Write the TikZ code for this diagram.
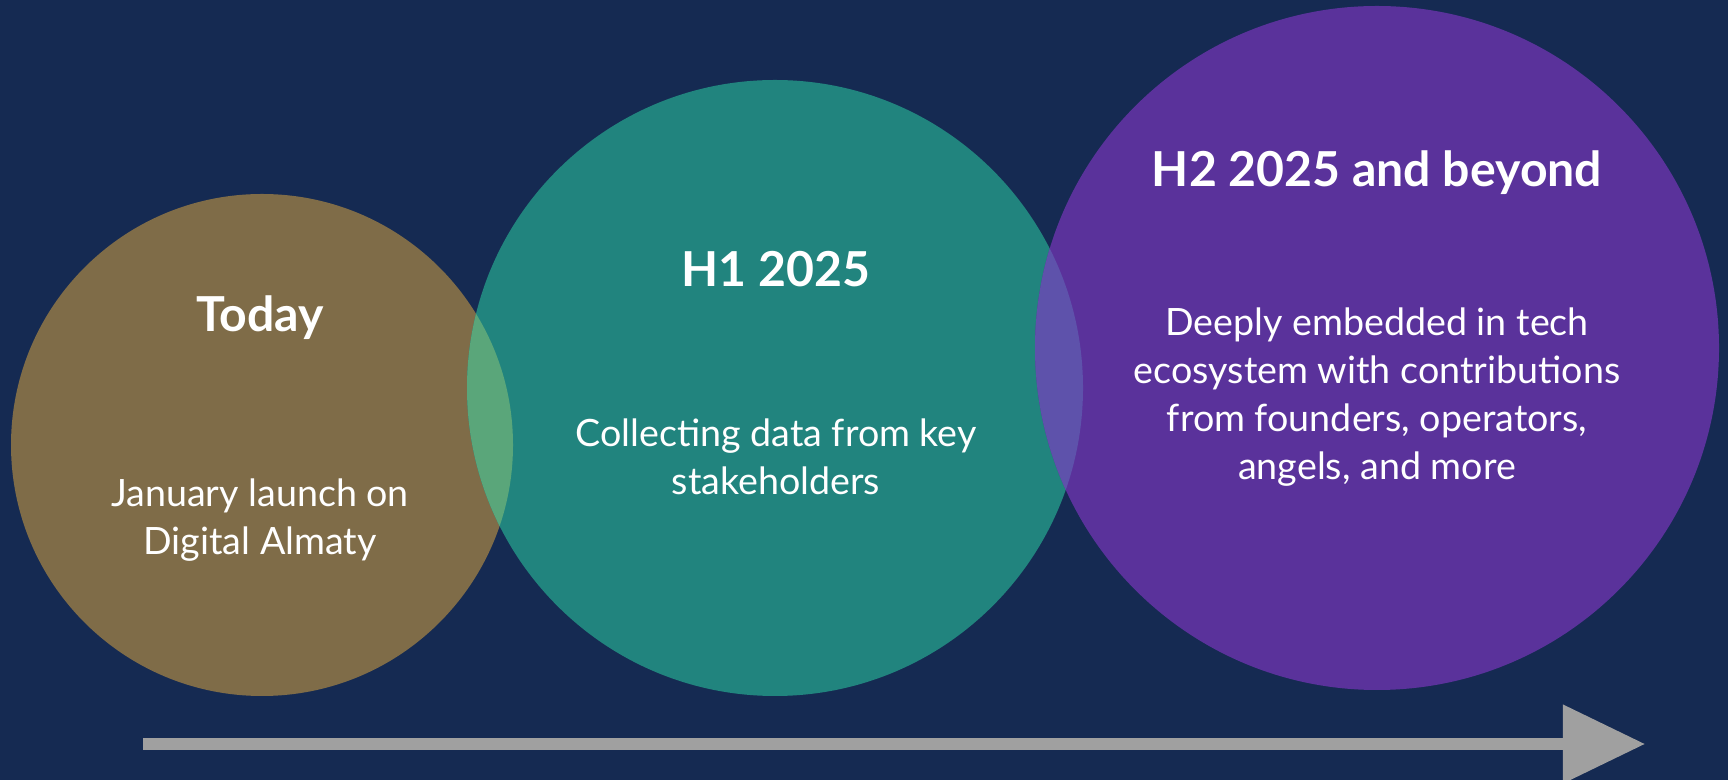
\documentclass[tikz,border=0pt]{standalone}
\usepackage{fontspec}
\setmainfont{Lato}
\usetikzlibrary{arrows.meta, positioning}
\definecolor{navybg}{RGB}{21, 42, 82}
\definecolor{todaybrown}{RGB}{127, 108, 72}
\definecolor{honeteal}{RGB}{33, 132, 126}
\definecolor{htwopurple}{RGB}{90, 50, 155}
\definecolor{mixgreen}{RGB}{90, 166, 122}
\definecolor{mixlavender}{RGB}{94, 82, 171}
\definecolor{arrowgray}{RGB}{160, 160, 160}

\begin{document}
\begin{tikzpicture}[x=0.01cm, y=-0.01cm,
  phase/.style={font=\fontsize{13.7}{16}\selectfont\bfseries, text=white, anchor=base},
  detail/.style={font=\fontsize{10.7}{13.66}\selectfont, text=white, align=center, anchor=base}]
\fill[navybg] (0,0) rectangle (1728,780);
\useasboundingbox (0,0) rectangle (1728,780);

% Circles
\coordinate (today) at (262,445);
\coordinate (hone) at (775,388);
\coordinate (htwo) at (1377,348);
\fill[todaybrown] (today) circle[radius=251];
\fill[honeteal] (hone) circle[radius=308];
\fill[htwopurple] (htwo) circle[radius=342];
\begin{scope}
\clip (today) circle[radius=251];
\fill[mixgreen] (hone) circle[radius=308];
\end{scope}
\begin{scope}
\clip (hone) circle[radius=308];
\fill[mixlavender] (htwo) circle[radius=342];
\end{scope}

% Labels (base = last line)
\node[phase] (todaytitle) at (260,332) {Today};
\node[detail] (todaytext) at (260,555) {January launch on\\Digital Almaty};
\node[phase] (honetitle) at (776,287) {H1 2025};
\node[detail] (honetext) at (776,495) {Collecting data from key\\stakeholders};
\node[phase] (htwotitle) at (1377,187) {H2 2025 and beyond};
\node[detail] (htwotext) at (1377,480) {Deeply embedded in tech\\ecosystem with contributions\\from founders, operators,\\angels, and more};

% Time arrow
\coordinate (start) at (143,744);
\coordinate (end) at (1645,744);
\draw[arrowgray, line width=0.11cm, -{Triangle[length=0.82cm, width=0.76cm]}] (start) -- (end);
\end{tikzpicture}
\end{document}
